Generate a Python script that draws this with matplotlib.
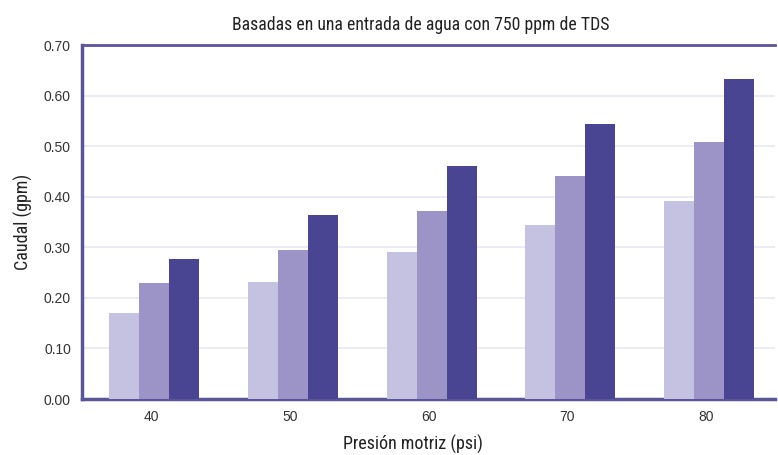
import matplotlib
matplotlib.use("Agg")
import matplotlib.pyplot as plt
import numpy as np

# data
presiones = ["40", "50", "60", "70", "80"]
serie_baja = [0.171, 0.232, 0.290, 0.345, 0.392]
serie_media = [0.229, 0.295, 0.372, 0.442, 0.509]
serie_alta = [0.276, 0.363, 0.460, 0.543, 0.632]
yticks = [0.0, 0.1, 0.2, 0.3, 0.4, 0.5, 0.6, 0.7]

colores = ["#c5c1e0", "#9c94c6", "#4a4592"]
borde = "#5a5499"
narrow = ["Roboto Condensed", "Archivo Narrow", "DejaVu Sans"]

fig = plt.figure(figsize=(7.78, 4.55), dpi=100)
ax = fig.add_axes([0.1054, 0.123, 0.891, 0.778])

x = np.arange(len(presiones))
w = 0.217
for i, (vals, c) in enumerate(zip([serie_baja, serie_media, serie_alta], colores)):
    ax.bar(x + (i - 1) * w + 0.022, vals, width=w, color=c, zorder=3)

ax.set_xlim(-0.5, 4.5)
ax.set_ylim(0, 0.70)
ax.set_yticks(yticks)
ax.set_yticklabels(["%.2f" % t for t in yticks], fontsize=10,
                   family="Liberation Sans", color="#333333")
ax.set_xticks(x)
ax.set_xticklabels(presiones, fontsize=10, family="Liberation Sans", color="#333333")
ax.tick_params(length=0, pad=8)
ax.grid(axis="y", color="#e9e7f4", linewidth=1.2, zorder=0)

for s in ["left", "bottom"]:
    ax.spines[s].set_color(borde)
    ax.spines[s].set_linewidth(2.5)
ax.spines["top"].set_color(borde)
ax.spines["top"].set_linewidth(2)
ax.spines["right"].set_visible(False)

ax.set_title("Basadas en una entrada de agua con 750 ppm de TDS",
             fontsize=12.8, family=narrow, color="#222222", pad=11, x=0.489)
ax.set_ylabel("Caudal (gpm)", fontsize=13, family=narrow,
              color="#222222", labelpad=8)
ax.set_xlabel("Presión motriz (psi)", fontsize=13, family=narrow,
              color="#222222", labelpad=8, x=0.478)

fig.savefig("out.png", dpi=100)
